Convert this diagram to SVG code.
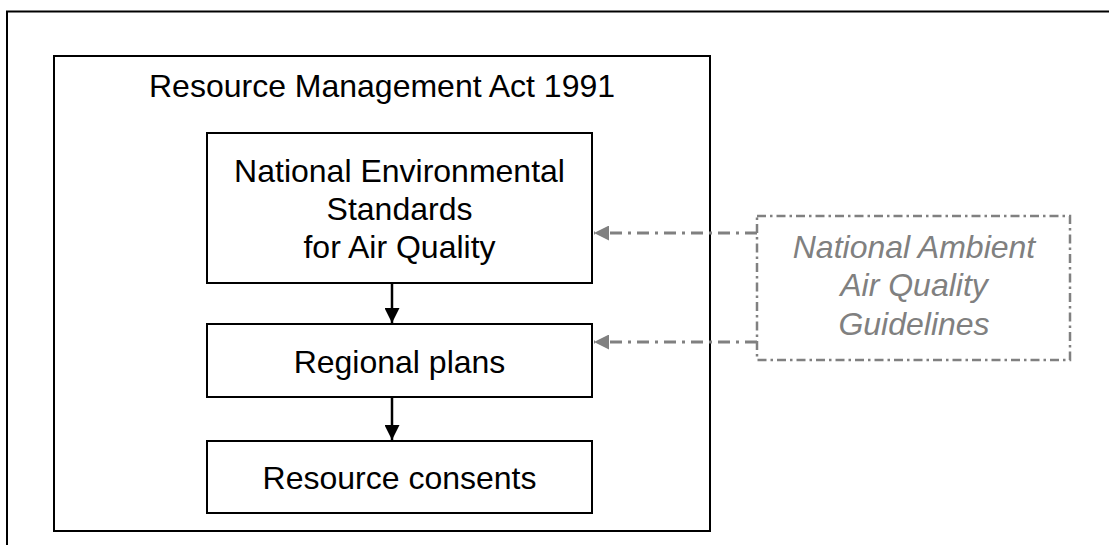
<svg xmlns="http://www.w3.org/2000/svg" width="1109" height="545" viewBox="0 0 1109 545">
  <defs>
    <style>
      .box { fill: #ffffff; stroke: #000000; stroke-width: 2; }
      .label { font-family: "Liberation Sans", Arial, sans-serif; font-size: 32px; fill: #000000; text-anchor: middle; }
      .guide-box { fill: none; stroke: #808080; stroke-width: 2.5; stroke-dasharray: 9 4 2.5 4; }
      .guide-label { font-family: "Liberation Sans", Arial, sans-serif; font-size: 32px; font-style: italic; fill: #808080; text-anchor: middle; }
      .flow { stroke: #000000; stroke-width: 2.5; fill: none; }
      .guide-link { stroke: #808080; stroke-width: 3; fill: none; stroke-dasharray: 12 6 3 6; }
    </style>
    <marker id="arrow-black" viewBox="0 0 10 10" refX="10" refY="5" markerWidth="6" markerHeight="6" markerUnits="strokeWidth" orient="auto">
      <path d="M0,0 L10,5 L0,10 Z" fill="#000000"/>
    </marker>
    <marker id="arrow-grey" viewBox="0 0 10 10" refX="10" refY="5" markerWidth="5.3" markerHeight="5" markerUnits="strokeWidth" orient="auto">
      <path d="M0,0 L10,5 L0,10 Z" fill="#808080"/>
    </marker>
  </defs>

  <rect width="1109" height="545" fill="#ffffff"/>

  <!-- page frame -->
  <rect x="7" y="11.5" width="1110" height="545" fill="none" stroke="#000000" stroke-width="2"/>

  <g id="rma">
    <rect class="box" x="54" y="56" width="656" height="475"/>
    <text class="label" x="382" y="97">Resource Management Act 1991</text>
  </g>

  <g id="nes">
    <rect class="box" x="207" y="133" width="385" height="150"/>
    <text class="label" x="399.5" y="182">National Environmental</text>
    <text class="label" x="399.5" y="220">Standards</text>
    <text class="label" x="399.5" y="258">for Air Quality</text>
  </g>

  <g id="regional-plans">
    <rect class="box" x="207" y="324" width="385" height="73"/>
    <text class="label" x="399.5" y="373">Regional plans</text>
  </g>

  <g id="resource-consents">
    <rect class="box" x="207" y="441" width="385" height="72"/>
    <text class="label" x="399.5" y="489">Resource consents</text>
  </g>

  <g id="guidelines">
    <rect class="guide-box" x="757" y="216" width="313" height="144"/>
    <text class="guide-label" x="914" y="258">National Ambient</text>
    <text class="guide-label" x="914" y="296">Air Quality</text>
    <text class="guide-label" x="914" y="335">Guidelines</text>
  </g>

  <g id="connectors">
    <line class="flow" x1="392" y1="284" x2="392" y2="323" marker-end="url(#arrow-black)"/>
    <line class="flow" x1="392" y1="398" x2="392" y2="440" marker-end="url(#arrow-black)"/>
    <line class="guide-link" x1="757" y1="233" x2="594" y2="233" marker-end="url(#arrow-grey)"/>
    <line class="guide-link" x1="757" y1="342" x2="594" y2="342" marker-end="url(#arrow-grey)"/>
  </g>
</svg>
